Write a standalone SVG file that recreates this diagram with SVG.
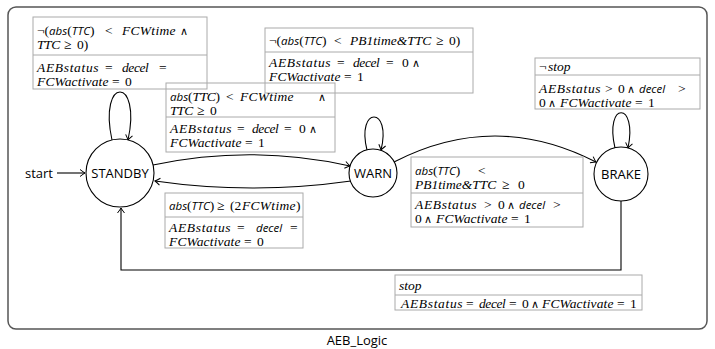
<svg xmlns="http://www.w3.org/2000/svg" width="715" height="349" viewBox="0 0 715 349">
<defs>
<marker id="arr" markerWidth="10" markerHeight="10" refX="0" refY="0" viewBox="-6 -5 8 10" orient="auto" markerUnits="userSpaceOnUse">
<path d="M -5,-3.5 Q -1.5,-0.8 0,0 Q -1.5,0.8 -5,3.5" fill="none" stroke="#000" stroke-width="1"/>
</marker>
</defs>
<style>
.frame{fill:#fff;stroke:#555;stroke-width:1.5}
.node{fill:#fff;stroke:#000;stroke-width:1.1}
.lbl{font-family:"Open Sans","DejaVu Sans",sans-serif;font-size:13px;fill:#000}
.edge{fill:none;stroke:#000;stroke-width:1.1}
.box{fill:none;stroke:#aaa;stroke-width:1}
.m{font-family:"Liberation Serif","DejaVu Serif",serif;font-style:italic;font-size:13.5px;fill:#000}
.u{font-style:normal}
.op{font-family:"DejaVu Sans",sans-serif;font-style:normal;font-size:11px}
.s{font-family:"Open Sans","DejaVu Sans",sans-serif;font-style:italic;font-size:11.5px}
</style>
<rect class="frame" x="8" y="7" width="699" height="322" rx="8"/>
<text class="lbl" x="357" y="345" text-anchor="middle">AEB_Logic</text>

<g id="connectors">
<path class="edge" d="M 57,173 L 85,173" marker-end="url(#arr)"/>
<path class="edge" d="M 112,140 C 98,76 142,76 128,140" marker-end="url(#arr)"/>
<path class="edge" d="M 367,150 C 356,106 392,106 381,150" marker-end="url(#arr)"/>
<path class="edge" d="M 615,148 C 604,101 638,101 628,148" marker-end="url(#arr)"/>
<path class="edge" d="M 153,165 Q 252,144 350,166" marker-end="url(#arr)"/>
<path class="edge" d="M 351,181 Q 252,195 155,181" marker-end="url(#arr)"/>
<path class="edge" d="M 394,162 Q 495,110 596,162" marker-end="url(#arr)"/>
<path class="edge" d="M 621,201 L 621,270 L 121,270 L 121,208" marker-end="url(#arr)"/>
</g>

<g id="start"><text class="lbl" x="25" y="178">start</text></g>
<g id="STANDBY"><circle class="node" cx="120" cy="173" r="34"/><text class="lbl" x="120" y="178" text-anchor="middle">STANDBY</text></g>
<g id="WARN"><circle class="node" cx="373" cy="173" r="24"/><text class="lbl" x="373" y="178" text-anchor="middle">WARN</text></g>
<g id="BRAKE"><circle class="node" cx="621" cy="174" r="27"/><text class="lbl" x="621" y="179" text-anchor="middle">BRAKE</text></g>

<g id="label-standby-self">
<rect class="box" x="33" y="17" width="174" height="72"/>
<line class="box" x1="33" y1="55" x2="207" y2="55"/>
<text class="m" y="35"><tspan x="37" class="u">¬(</tspan><tspan class="s">abs</tspan><tspan class="u">(</tspan><tspan class="s">TTC</tspan><tspan class="u">)</tspan><tspan x="105" class="u">&lt;</tspan><tspan x="122" textLength="53.5" lengthAdjust="spacing">FCWtime</tspan><tspan x="180" class="op">∧</tspan></text>
<text class="m" y="49"><tspan x="37" textLength="23.2" lengthAdjust="spacing">TTC</tspan><tspan x="64" class="u">≥</tspan><tspan x="77" class="u">0)</tspan></text>
<text class="m" y="72"><tspan x="37" textLength="61.6" lengthAdjust="spacing">AEBstatus</tspan><tspan x="105" class="u">=</tspan><tspan x="122" textLength="26.8" lengthAdjust="spacing">decel</tspan><tspan x="159" class="u">=</tspan></text>
<text class="m" y="86"><tspan x="37" textLength="71.5" lengthAdjust="spacing">FCWactivate</tspan><tspan x="112" class="u">=</tspan><tspan x="125" class="u">0</tspan></text>
</g>

<g id="label-warn-self">
<rect class="box" x="265" y="28" width="208" height="65"/>
<line class="box" x1="265" y1="52" x2="473" y2="52"/>
<text class="m" y="45"><tspan x="269" class="u">¬(</tspan><tspan class="s">abs</tspan><tspan class="u">(</tspan><tspan class="s">TTC</tspan><tspan class="u">)</tspan><tspan x="334" class="u">&lt;</tspan><tspan x="350" textLength="81.3" lengthAdjust="spacing">PB1time&amp;TTC</tspan><tspan x="436" class="u">≥</tspan><tspan x="449" class="u">0)</tspan></text>
<text class="m" y="67"><tspan x="269" textLength="61.6" lengthAdjust="spacing">AEBstatus</tspan><tspan x="337" class="u">=</tspan><tspan x="353" textLength="26.8" lengthAdjust="spacing">decel</tspan><tspan x="386" class="u">=</tspan><tspan x="402" class="u">0</tspan><tspan x="412" class="op">∧</tspan></text>
<text class="m" y="81"><tspan x="269" textLength="71.5" lengthAdjust="spacing">FCWactivate</tspan><tspan x="344" class="u">=</tspan><tspan x="357" class="u">1</tspan></text>
</g>

<g id="label-standby-warn">
<rect class="box" x="166" y="83" width="169" height="69"/>
<line class="box" x1="166" y1="117" x2="335" y2="117"/>
<text class="m" y="101"><tspan x="170" class="s">abs</tspan><tspan class="u">(</tspan><tspan textLength="23.2" lengthAdjust="spacing">TTC</tspan><tspan class="u">)</tspan><tspan x="226" class="u">&lt;</tspan><tspan x="240" textLength="53.5" lengthAdjust="spacing">FCWtime</tspan><tspan x="318" class="op">∧</tspan></text>
<text class="m" y="115"><tspan x="170" textLength="23.2" lengthAdjust="spacing">TTC</tspan><tspan x="197" class="u">≥</tspan><tspan x="210" class="u">0</tspan></text>
<text class="m" y="133"><tspan x="170" textLength="61.6" lengthAdjust="spacing">AEBstatus</tspan><tspan x="237" class="u">=</tspan><tspan x="252" textLength="26.8" lengthAdjust="spacing">decel</tspan><tspan x="284" class="u">=</tspan><tspan x="299" class="u">0</tspan><tspan x="309" class="op">∧</tspan></text>
<text class="m" y="147"><tspan x="170" textLength="71.5" lengthAdjust="spacing">FCWactivate</tspan><tspan x="245" class="u">=</tspan><tspan x="258" class="u">1</tspan></text>
</g>

<g id="label-brake-self">
<rect class="box" x="535" y="58" width="165" height="51"/>
<line class="box" x1="535" y1="75" x2="700" y2="75"/>
<text class="m" y="71"><tspan x="539" class="u">¬</tspan><tspan x="548" textLength="22.4" lengthAdjust="spacing">stop</tspan></text>
<text class="m" y="93"><tspan x="539" textLength="61.6" lengthAdjust="spacing">AEBstatus</tspan><tspan x="605" class="u">&gt;</tspan><tspan x="618" class="u">0</tspan><tspan x="627" class="op">∧</tspan><tspan x="639" class="s">decel</tspan><tspan x="678" class="u">&gt;</tspan></text>
<text class="m" y="107"><tspan x="539" class="u">0</tspan><tspan x="548" class="op">∧</tspan><tspan x="560" textLength="71.5" lengthAdjust="spacing">FCWactivate</tspan><tspan x="635" class="u">=</tspan><tspan x="648" class="u">1</tspan></text>
</g>

<g id="label-warn-brake">
<rect class="box" x="411" y="157" width="172" height="70"/>
<line class="box" x1="411" y1="193" x2="583" y2="193"/>
<text class="m" y="175"><tspan x="415" class="s">abs</tspan><tspan class="u">(</tspan><tspan class="s">TTC</tspan><tspan class="u">)</tspan><tspan x="478" class="u">&lt;</tspan></text>
<text class="m" y="189"><tspan x="415" textLength="81.3" lengthAdjust="spacing">PB1time&amp;TTC</tspan><tspan x="502" class="u">≥</tspan><tspan x="518" class="u">0</tspan></text>
<text class="m" y="209"><tspan x="415" textLength="61.6" lengthAdjust="spacing">AEBstatus</tspan><tspan x="484" class="u">&gt;</tspan><tspan x="498" class="u">0</tspan><tspan x="507" class="op">∧</tspan><tspan x="519" class="s">decel</tspan><tspan x="553" class="u">&gt;</tspan></text>
<text class="m" y="223"><tspan x="415" class="u">0</tspan><tspan x="424" class="op">∧</tspan><tspan x="436" textLength="71.5" lengthAdjust="spacing">FCWactivate</tspan><tspan x="511" class="u">=</tspan><tspan x="524" class="u">1</tspan></text>
</g>

<g id="label-warn-standby">
<rect class="box" x="165" y="193" width="138" height="55"/>
<line class="box" x1="165" y1="217" x2="303" y2="217"/>
<text class="m" y="210"><tspan x="169" class="s">abs</tspan><tspan class="u">(</tspan><tspan class="s">TTC</tspan><tspan class="u">)</tspan><tspan x="217" class="u">≥</tspan><tspan x="230" class="u">(2</tspan><tspan x="242" textLength="53.5" lengthAdjust="spacing">FCWtime</tspan><tspan x="296" class="u">)</tspan></text>
<text class="m" y="232"><tspan x="169" textLength="61.6" lengthAdjust="spacing">AEBstatus</tspan><tspan x="237" class="u">=</tspan><tspan x="256" class="s">decel</tspan><tspan x="290" class="u">=</tspan></text>
<text class="m" y="246"><tspan x="169" textLength="71.5" lengthAdjust="spacing">FCWactivate</tspan><tspan x="244" class="u">=</tspan><tspan x="257" class="u">0</tspan></text>
</g>

<g id="label-brake-standby">
<rect class="box" x="395" y="275" width="247" height="35"/>
<line class="box" x1="395" y1="295" x2="642" y2="295"/>
<text class="m" y="290"><tspan x="399" textLength="22.4" lengthAdjust="spacing">stop</tspan></text>
<text class="m" y="308"><tspan x="401" textLength="61.6" lengthAdjust="spacing">AEBstatus</tspan><tspan x="466" class="u">=</tspan><tspan x="479" textLength="26.8" lengthAdjust="spacing">decel</tspan><tspan x="509" class="u">=</tspan><tspan x="522" class="u">0</tspan><tspan x="531" class="op">∧</tspan><tspan x="542" textLength="71.5" lengthAdjust="spacing">FCWactivate</tspan><tspan x="617" class="u">=</tspan><tspan x="630" class="u">1</tspan></text>
</g>
</svg>
